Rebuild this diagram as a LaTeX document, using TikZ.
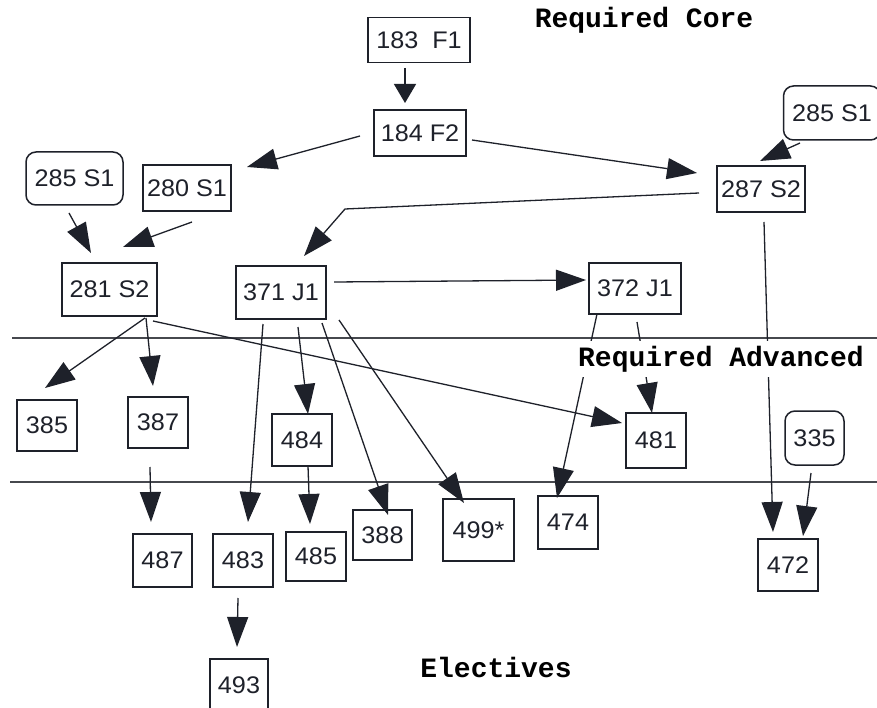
\documentclass[tikz,border=0pt]{standalone}
\usepackage{fontspec}
\setmainfont{Liberation Sans}[FakeStretch=1.05]
\newfontfamily\monofont{Liberation Mono}
\usetikzlibrary{arrows.meta,calc}
\definecolor{ink}{RGB}{30,33,42}
\definecolor{rulec}{RGB}{70,72,78}
\begin{document}
\begin{tikzpicture}[x=1pt,y=-1pt,
 box/.style={draw=ink,line width=1.5pt,inner sep=0pt,font=\fontsize{24}{28}\selectfont,text=ink},
 rbox/.style={box,rounded corners=10pt},
 arr/.style={draw=ink,line width=1.3pt,-{Triangle[length=30pt,width=21pt]}},
 sarr/.style={draw=ink,line width=1.3pt,-{Triangle[length=19pt,width=22pt]}},
 lbl/.style={font=\monofont\bfseries\fontsize{28}{30}\selectfont,text=black,inner sep=0pt},
 hline/.style={draw=rulec,line width=1.3pt}
]
\useasboundingbox (0,0) rectangle (877,708);
\fill[white] (0,0) rectangle (877,708);

% nodes
\node[box,minimum width=102pt,minimum height=45pt] (f1) at (419,40) {183~~F1};
\node[box,minimum width=92pt,minimum height=46pt] (f2) at (420,133) {184 F2};
\node[rbox,minimum width=97pt,minimum height=53pt] (sL) at (74.5,178.5) {285 S1};
\node[box,minimum width=88pt,minimum height=46pt] (s280) at (187,188) {280 S1};
\node[rbox,minimum width=97pt,minimum height=54pt] (sR) at (832,113) {285 S1};
\node[box,minimum width=88pt,minimum height=46pt] (s287) at (761,189) {287 S2};
\node[box,minimum width=95pt,minimum height=53pt] (s281) at (109.5,289.5) {281 S2};
\node[box,minimum width=90pt,minimum height=53pt] (j371) at (281,292.5) {371 J1};
\node[box,minimum width=92pt,minimum height=51pt] (j372) at (635,288.5) {372 J1};
\node[box,minimum width=60pt,minimum height=51pt] (n385) at (47,425.5) {385};
\node[box,minimum width=60pt,minimum height=51pt] (n387) at (158,422.5) {387};
\node[box,minimum width=60pt,minimum height=52pt] (n484) at (302,440) {484};
\node[box,minimum width=60pt,minimum height=55pt] (n481) at (656,440.5) {481};
\node[rbox,minimum width=59pt,minimum height=54pt] (n335) at (814.5,438) {335};
\node[box,minimum width=59pt,minimum height=53pt] (n487) at (162.5,560.5) {487};
\node[box,minimum width=60pt,minimum height=53pt] (n483) at (243,560.5) {483};
\node[box,minimum width=60pt,minimum height=49pt] (n485) at (316,556.5) {485};
\node[box,minimum width=59pt,minimum height=50pt] (n388) at (382.5,535) {388};
\node[box,minimum width=71pt,minimum height=62pt] (n499) at (478.5,530) {499*};
\node[box,minimum width=60pt,minimum height=53pt] (n474) at (568,522.5) {474};
\node[box,minimum width=60pt,minimum height=52pt] (n472) at (788,565) {472};
\node[box,minimum width=58pt,minimum height=52pt] (n493) at (239,685) {493};

% section rules
\coordinate (r1a) at (12,338); \coordinate (r1b) at (877,338);
\coordinate (r2a) at (10,482); \coordinate (r2b) at (877,482);
\draw[hline] (r1a) -- (r1b);
\draw[hline] (r2a) -- (r2b);

% connectors
\draw[sarr] ($(f1)+(-14,28)$) -- ($(f2)+(-15,-30)$);
\draw[arr] ($(f2)+(-60,3)$) -- ($(s280)+(60,-21)$);
\draw[arr] ($(f2)+(52,7)$) -- ($(s287)+(-64,-16)$);
\draw[arr] ($(sR)+(-32,30)$) -- ($(s287)+(-1,-28)$);
\draw[arr] ($(s287)+(-62,4)$) -- ($(j371)+(64,-83.5)$) -- ($(j371)+(23,-36.5)$);
\draw[arr] ($(sL)+(-5.5,34.5)$) -- ($(s281)+(-18.5,-36.5)$);
\draw[arr] ($(s280)+(5,34)$) -- ($(s281)+(13.5,-42.5)$);
\draw[arr] ($(j371)+(53,-10.5)$) -- ($(j372)+(-49,-8.5)$);
\draw[arr] ($(s281)+(35.5,28.5)$) -- ($(n385)+(-2,-37.5)$);
\draw[arr] ($(s281)+(36.5,28.5)$) -- ($(n387)+(-5,-36.5)$);
\draw[arr] ($(s281)+(43.5,31.5)$) -- ($(n481)+(-34,-17.5)$);
\draw[arr] ($(j371)+(-18,31.5)$) -- ($(n483)+(5,-38.5)$);
\draw[arr] ($(j371)+(17,34.5)$) -- ($(n484)+(6,-26)$);
\draw[arr] ($(j371)+(41,30.5)$) -- ($(n388)+(5.5,-20)$);
\draw[arr] ($(j371)+(58,27.5)$) -- ($(n499)+(-14.5,-27)$);
\draw[arr] ($(j372)+(-38,25.5)$) -- ($(n474)+(-11,-24.5)$);
\draw[arr] ($(j372)+(2,33.5)$) -- ($(n481)+(-4,-27.5)$);
\draw[arr] ($(s287)+(3,33)$) -- ($(n472)+(-15,-33)$);
\draw[arr] ($(n335)+(-3.5,35)$) -- ($(n472)+(15,-29)$);
\draw[arr] ($(n387)+(-8,44.5)$) -- ($(n487)+(-11.5,-38.5)$);
\draw[arr] ($(n484)+(6,26)$) -- ($(n485)+(-6,-32.5)$);
\draw[arr] ($(n483)+(-5,37.5)$) -- ($(n493)+(-2,-38)$);

% section labels
\node[lbl] (core) at (644,20) {Required Core};
\node[lbl,fill=white,inner xsep=4pt,minimum height=36pt] (adv) at (721,359) {Required Advanced};
\node[lbl] (elec) at (496,667) {Electives};
\end{tikzpicture}
\end{document}
